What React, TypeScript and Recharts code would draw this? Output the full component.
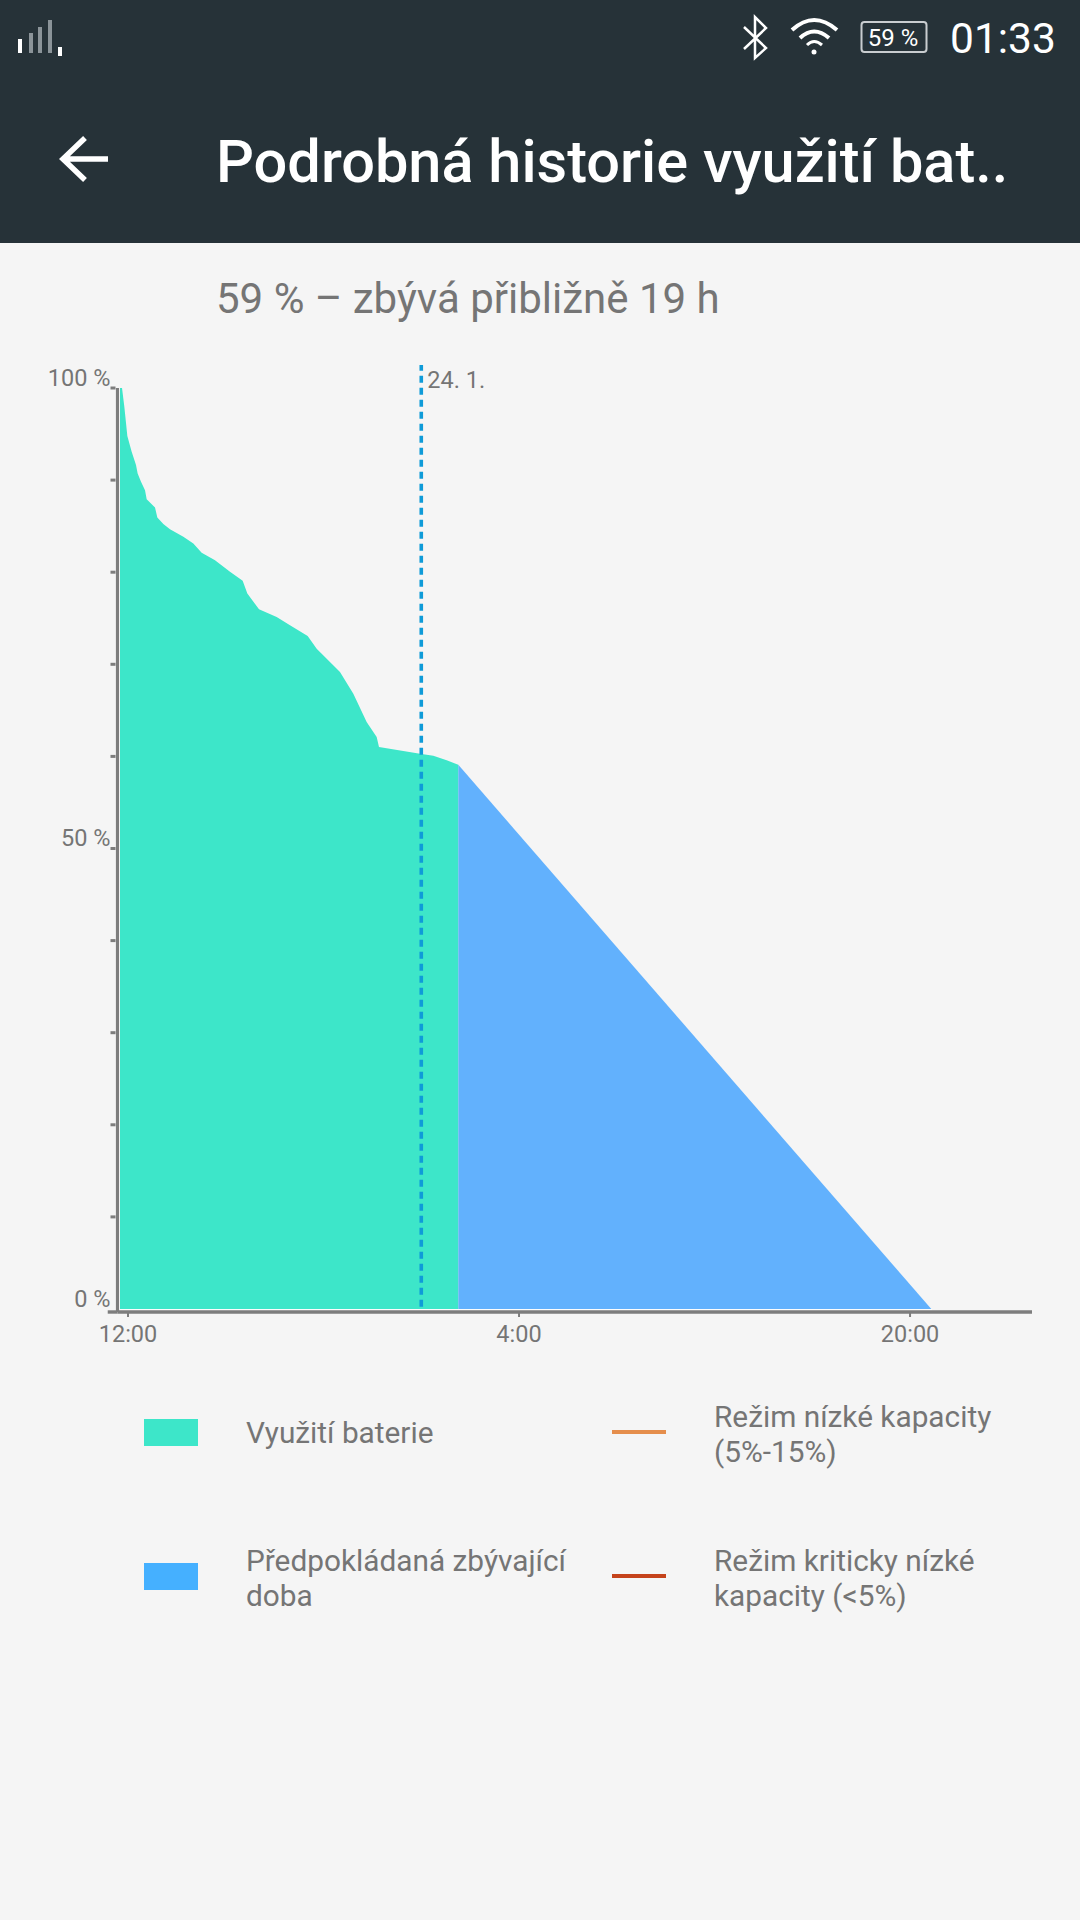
import React from 'react';
import { ComposedChart, Area, XAxis, YAxis, ReferenceLine } from 'recharts';

// hours after 12:00 on the first day, and battery percent
const usageHours = [-0.327, -0.245, -0.15, -0.027, 0.15, 0.327, 0.395, 0.532, 0.696, 0.764, 1.105, 1.2, 1.446, 1.718, 2.264, 2.673, 3.014, 3.56, 4.173, 4.692, 4.883, 5.36, 6.083, 6.628, 7.351, 7.72, 8.674, 9.22, 9.765, 10.175, 10.27, 11.947, 12.493, 13.04, 13.516];
const usagePct = [100, 100, 97.97, 94.78, 93.08, 91.63, 90.72, 89.82, 88.91, 87.93, 87.03, 85.94, 85.22, 84.67, 83.84, 83.12, 82.1, 81.3, 80.04, 79.06, 77.68, 75.98, 75.14, 74.24, 73.08, 71.7, 69.17, 66.81, 63.73, 62.1, 61.01, 60.29, 60.07, 59.57, 59.09];
const forecastHours = [13.516, 32.87];
const forecastPct = [59.09, 0];

const xTicks = [0, 16, 32];
const xTickLabels = ['12:00', '4:00', '20:00'];
const yTicks = [0, 10, 20, 30, 40, 50, 60, 70, 80, 90, 100];
const yLabelled = [0, 50, 100];
const midnightHour = 12;
const midnightLabel = '24. 1.';

const GREEN = '#3DE6C9';
const BLUE = '#62B1FD';
const GREY = '#757575';
const AXIS = '#7d7d7d';

const xDomain = [-0.43, 36.99];
const yDomain = [-0.326, 100];

const rows: any[] = [
  ...usageHours.map((h, i) => ({
    h,
    usage: usagePct[i],
    forecast: i === usageHours.length - 1 ? forecastPct[0] : null,
  })),
  { h: forecastHours[1], usage: null, forecast: forecastPct[1] },
];

const legendRows = [
  { kind: 'box', color: GREEN, x: 144, y: 1419, tx: 246, lines: [{ t: 'Využití baterie', y: 1443 }] },
  { kind: 'box', color: '#45B0FF', x: 144, y: 1563, tx: 246, lines: [{ t: 'Předpokládaná zbývající', y: 1571 }, { t: 'doba', y: 1606 }] },
  { kind: 'line', color: '#E58E4C', x: 612, y: 1432, tx: 714, lines: [{ t: 'Režim nízké kapacity', y: 1427 }, { t: '(5%-15%)', y: 1462 }] },
  { kind: 'line', color: '#C5431B', x: 612, y: 1576, tx: 714, lines: [{ t: 'Režim kriticky nízké', y: 1571 }, { t: 'kapacity (<5%)', y: 1606 }] },
];

const font = 'Roboto, sans-serif';

const Overlay = () => (
  <svg width={1080} height={1920} style={{ position: 'absolute', left: 0, top: 0 }} fontFamily={font}>
    <rect x={0} y={0} width={1080} height={243} fill="#263238" />
    {/* signal */}
    <rect x={18} y={39} width={4} height={14} fill="#fff" />
    <rect x={29} y={33} width={4} height={20} fill="#8b9499" />
    <rect x={38} y={27} width={4} height={26} fill="#8b9499" />
    <rect x={48} y={20} width={4} height={33} fill="#8b9499" />
    <rect x={58} y={47} width={4} height={9} fill="#fff" />
    {/* bluetooth */}
    <path d="M744 27 L766 48 L755 58 L755 17 L766 28 L744 49" fill="none" stroke="#fff" strokeWidth={2.5} />
    {/* wifi */}
    <path d="M792 30 Q814 10 837 30" fill="none" stroke="#fff" strokeWidth={4} />
    <path d="M800 38 Q814 25 829 38" fill="none" stroke="#fff" strokeWidth={4} />
    <path d="M807 45 Q814 38 822 45" fill="none" stroke="#fff" strokeWidth={3} />
    <circle cx={814} cy={52} r={2.5} fill="#fff" />
    {/* battery */}
    <rect x={861.5} y={22} width={65} height={30} rx={3} fill="none" stroke="#c9cdd0" strokeWidth={2} />
    <text x={893} y={46} fontSize={24} fill="#fff" textAnchor="middle">59 %</text>
    <text x={950} y={53} fontSize={42.5} fill="#fff">01:33</text>
    {/* back arrow */}
    <path d="M108 159 L66 159 M85 138 L63 159 L85 180" fill="none" stroke="#fff" strokeWidth={5.5} />
    <text x={216} y={182} fontSize={59.5} fontWeight={500} fill="#fff">Podrobná historie využití bat..</text>
    <text x={216} y={313} fontSize={42} fill={GREY}>59 % – zbývá přibližně 19 h</text>
    {legendRows.map((r) => (
      <g key={r.tx + r.lines[0].t}>
        {r.kind === 'box'
          ? <rect x={r.x} y={r.y} width={54} height={27} fill={r.color} />
          : <rect x={r.x} y={r.y - 2} width={54} height={4} fill={r.color} />}
        {r.lines.map((l) => (
          <text key={l.t} x={r.tx} y={l.y} fontSize={29.8} fill={GREY}>{l.t}</text>
        ))}
      </g>
    ))}
  </svg>
);

// y tick: the 0 tick has no mark of its own, the time axis stub sits there
const YTick = ({ x, y, payload }: any) => (
  <g>
    {payload.value !== 0 && <line x1={x} x2={x + 5} y1={y} y2={y} stroke={AXIS} strokeWidth={3} />}
    {yLabelled.includes(payload.value) && (
      <text x={x} y={y - 2} textAnchor="end" fill={GREY} fontSize={23.5} fontFamily={font}>{`${payload.value} %`}</text>
    )}
  </g>
);

export default function App() {
  const tickStyle = { fill: GREY, fontSize: 23.5, fontFamily: font };
  return (
    <div style={{ position: 'absolute', left: 0, top: 0, width: 1080, height: 1920, background: '#F5F5F5', overflow: 'hidden' }}>
      <Overlay />
      <div style={{ position: 'absolute', left: 0, top: 340 }}>
        <ComposedChart width={1080} height={1060} data={rows} margin={{ top: 48, right: 48, bottom: 48, left: 0 }}>
          <XAxis
            dataKey="h"
            type="number"
            domain={xDomain}
            allowDataOverflow
            ticks={xTicks}
            tickFormatter={(v: number) => xTickLabels[xTicks.indexOf(v)]}
            height={40}
            axisLine={{ stroke: AXIS, strokeWidth: 3.4 }}
            tickSize={5}
            tickMargin={8}
            tick={tickStyle}
            tickLine={{ stroke: AXIS, strokeWidth: 2 }}
          />
          <YAxis
            type="number"
            domain={yDomain}
            allowDataOverflow
            ticks={yTicks}
            interval={0}
            width={117.5}
            axisLine={{ stroke: AXIS, strokeWidth: 3.2 }}
            tickSize={4}
            tickMargin={3}
            tick={<YTick />}
            tickLine={false}
          />
          <Area dataKey="usage" type="linear" stroke="none" fill={GREEN} fillOpacity={1} isAnimationActive={false} dot={false} activeDot={false} />
          <Area dataKey="forecast" type="linear" stroke="none" fill={BLUE} fillOpacity={1} isAnimationActive={false} dot={false} activeDot={false} />
          {/* thin white edge between the fill and the axes */}
          <ReferenceLine stroke="#fff" strokeWidth={1.4} segment={[{ x: -0.36, y: -0.1 }, { x: 32.9, y: -0.1 }]} ifOverflow="visible" />
          <ReferenceLine segment={[{ x: -0.36, y: -0.1 }, { x: -0.36, y: 100 }]} stroke="#fff" strokeWidth={1.4} ifOverflow="visible" />
          <ReferenceLine
            segment={[{ x: midnightHour, y: 0.25 }, { x: midnightHour, y: 102.5 }]}
            ifOverflow="visible"
            stroke="#0F9BD8"
            strokeWidth={3.6}
            strokeDasharray="7 5"
            label={{ value: midnightLabel, position: 'insideTopLeft', offset: 6, fill: GREY, fontSize: 23.5, fontFamily: font }}
          />
          {/* left stub of the time axis */}
          <ReferenceLine
            segment={[{ x: -0.83, y: yDomain[0] }, { x: xDomain[0], y: yDomain[0] }]}
            ifOverflow="visible"
            stroke={AXIS}
            strokeWidth={3.4}
          />
        </ComposedChart>
      </div>
    </div>
  );
}
